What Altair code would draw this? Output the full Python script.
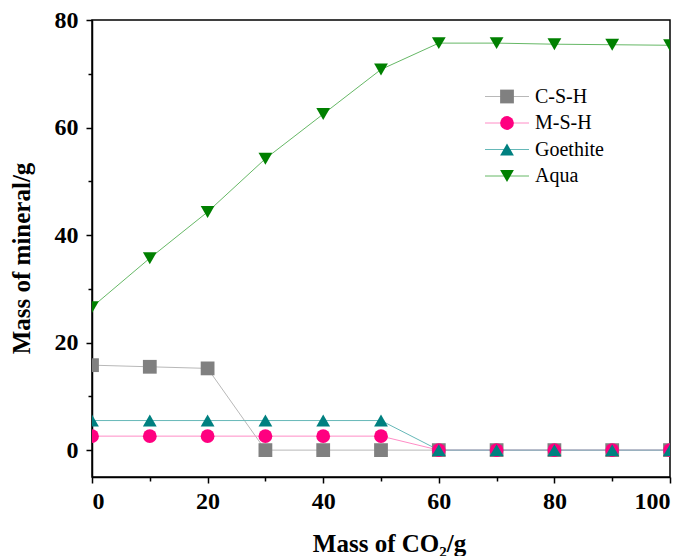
import altair as alt
import pandas as pd

x_vals = [0, 10, 20, 30, 40, 50, 60, 70, 80, 90, 100]
csh = [15.8, 15.5, 15.2, 0, 0, 0, 0, 0, 0, 0, 0]
msh = [2.6, 2.6, 2.6, 2.6, 2.6, 2.6, 0, 0, 0, 0, 0]
goethite = [5.5, 5.5, 5.5, 5.5, 5.5, 5.5, 0, 0, 0, 0, 0]
aqua = [26.6, 35.7, 44.3, 54.2, 62.5, 70.8, 75.7, 75.7, 75.5, 75.4, 75.3]

series = ["C-S-H", "M-S-H", "Goethite", "Aqua"]
marker_colors = ["#808080", "#FF0080", "#008080", "#008000"]
line_colors = ["#b8b8b8", "#ff8cc6", "#66b8b8", "#66b866"]
shapes = ["square", "circle", "triangle-up", "triangle-down"]

rows = []
for name, vals in zip(series, [csh, msh, goethite, aqua]):
    for xv, yv in zip(x_vals, vals):
        rows.append({"x": xv, "y": yv, "series": name})
df = pd.DataFrame(rows)
leg_df = pd.DataFrame({"series": series, "idx": list(range(len(series)))})

FONT = "Liberation Serif"
xs = alt.Scale(domain=[0, 100], nice=False, zero=False)
ys = alt.Scale(domain=[-5, 80], nice=False, zero=False)
lc = alt.Scale(domain=series, range=line_colors)
mc = alt.Scale(domain=series, range=marker_colors)
sh = alt.Scale(domain=series, range=shapes)

xaxis = alt.Axis(values=[0, 20, 40, 60, 80, 100], title="Mass of CO\u2082/g",
                 tickSize=6, labelPadding=6, titlePadding=18, titleFontSize=25,
                 titleX=297, grid=False)
yaxis = alt.Axis(values=[0, 20, 40, 60, 80], title="Mass of mineral/g",
                 tickSize=6, labelPadding=8, titlePadding=20, titleFontSize=25,
                 titleY=238, grid=False)

base = alt.Chart(df)
lines = base.mark_line(strokeWidth=1, clip=True).encode(
    x=alt.X("x:Q", scale=xs, axis=xaxis),
    y=alt.Y("y:Q", scale=ys, axis=yaxis),
    color=alt.Color("series:N", scale=lc, legend=None),
    detail="series:N",
)
points = base.mark_point(filled=True, opacity=1, size=190, clip=True).encode(
    x=alt.X("x:Q", scale=xs),
    y=alt.Y("y:Q", scale=ys),
    fill=alt.Fill("series:N", scale=mc, legend=None),
    shape=alt.Shape("series:N", scale=sh, legend=None),
)

# minor ticks
minor_x = alt.Chart(pd.DataFrame({"x": [10, 30, 50, 70, 90]})).mark_tick(opacity=0).encode(
    x=alt.X("x:Q", scale=xs, axis=alt.Axis(values=[10, 30, 50, 70, 90], labels=False, title=None,
                                             tickSize=4, domain=False, grid=False, orient="bottom")),
)
minor_y = alt.Chart(pd.DataFrame({"y": [10, 30, 50, 70]})).mark_tick(opacity=0).encode(
    y=alt.Y("y:Q", scale=ys, axis=alt.Axis(values=[10, 30, 50, 70], labels=False, title=None,
                                             tickSize=4, domain=False, grid=False, orient="left")),
)

legend_y = alt.Scale(domain=[0, 3], range=[76.5, 156])
leg_rule = alt.Chart(leg_df).mark_rule(strokeWidth=1).encode(
    x=alt.value(393), x2=alt.value(437),
    y=alt.Y("idx:Q", scale=legend_y, axis=None),
    color=alt.Color("series:N", scale=lc, legend=None),
)
leg_pt = alt.Chart(leg_df).mark_point(filled=True, opacity=1, size=190).encode(
    x=alt.value(415),
    y=alt.Y("idx:Q", scale=legend_y, axis=None),
    fill=alt.Fill("series:N", scale=mc, legend=None),
    shape=alt.Shape("series:N", scale=sh, legend=None),
)
leg_txt = alt.Chart(leg_df).mark_text(align="left", baseline="middle", font=FONT, fontSize=20,
                                      color="black").encode(
    x=alt.value(443),
    y=alt.Y("idx:Q", scale=legend_y, axis=None),
    text="series:N",
)

main = alt.layer(lines, points)
chart = alt.layer(main, minor_x, minor_y, alt.layer(leg_rule, leg_pt, leg_txt)).resolve_scale(
    y="independent", x="shared"
).resolve_axis(x="independent", y="independent").properties(
    width=578, height=457,
    autosize=alt.AutoSizeParams(type="none"),
    padding={"left": 84, "top": 12, "right": 11, "bottom": 79},
).configure_view(stroke="black", strokeWidth=1.5).configure_axis(
    labelFont=FONT, titleFont=FONT, labelFontSize=24,
    labelFontWeight="bold", titleFontWeight="bold", labelColor="black", titleColor="black",
    domainColor="black", tickColor="black", domainWidth=1.5, tickWidth=1.5,
)

chart.save("out.html", embed_options={"renderer": "svg", "actions": False})
